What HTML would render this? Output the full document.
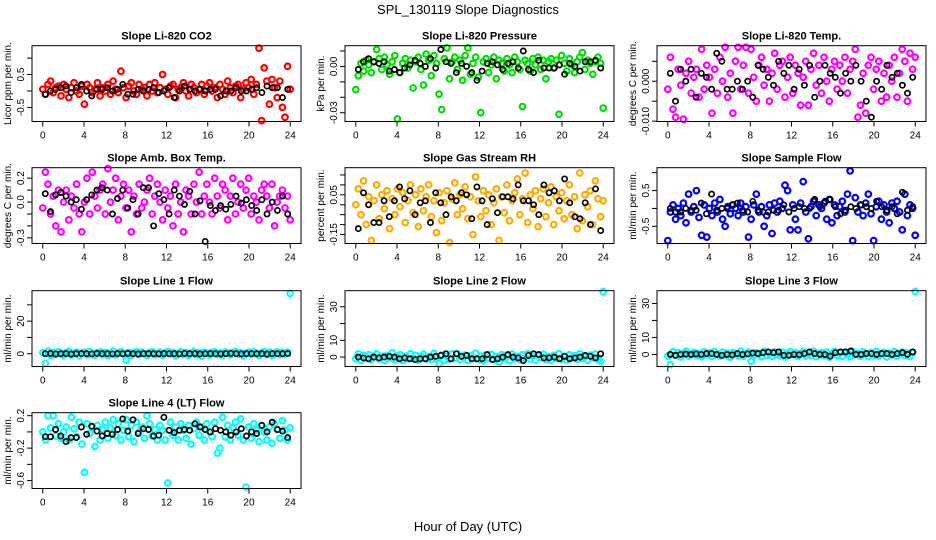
<!DOCTYPE html>
<html><head><meta charset="utf-8"><style>
html,body{margin:0;padding:0;background:#fff}
svg{display:block;font-family:"Liberation Sans",sans-serif}
</style></head><body>
<svg id="c" width="936" height="540" viewBox="0 0 936 540">
<text x="468" y="14" text-anchor="middle" font-size="13">SPL_130119  Slope Diagnostics</text>
<text x="468" y="531" text-anchor="middle" font-size="13">Hour of Day (UTC)</text>
</svg>
<script>
const xTicks=[0,4,8,12,16,20,24];
const co2All=[0.05,-0.1,0.2,0.3,-0.05,0.1,0.15,-0.15,0.2,0.05,-0.2,0.1,0.25,0.0,-0.1,0.15,-0.4,0.2,0.1,-0.05,0.05,0.25,-0.15,0.1,0.0,0.2,-0.1,0.3,0.05,-0.05,0.6,0.1,-0.2,0.15,0.25,0.0,-0.1,0.2,0.05,0.1,-0.15,0.2,0.0,0.25,-0.05,0.1,0.5,0.05,-0.1,0.15,0.2,-0.2,0.05,0.1,0.25,0.0,-0.15,0.2,0.1,-0.05,0.05,0.2,-0.1,0.15,0.25,0.0,0.1,-0.2,0.2,0.05,-0.1,0.3,0.1,-0.05,0.15,0.2,-0.2,0.05,0.25,0.1,0.35,-0.1,0.2,1.3,-0.9,0.7,0.3,-0.4,0.35,0.1,-0.2,0.3,-0.5,-0.8,0.75,0.05];
const co2Avg=[-0.1,0.0,0.05,0.1,0.15,-0.05,0.1,0.2,0.0,-0.15,0.05,0.05,0.1,0.0,0.05,0.2,-0.1,-0.1,0.05,0.0,0.05,0.1,-0.05,0.0,0.1,-0.2,0.0,0.15,0.05,0.0,0.05,0.0,0.05,0.05,-0.15,0.0,0.0,0.1,0.0,0.0,0.05,0.1,-0.05,0.15,0.1,0.1,-0.2,0.05];
const presAll=[-0.015,-0.006,0.002,-0.003,0.004,0.001,-0.004,0.003,0.011,0.005,-0.002,0.006,0.001,-0.005,0.003,0.007,-0.034,-0.004,0.002,0.005,-0.001,0.004,-0.014,0.003,0.006,-0.002,-0.012,0.008,0.004,-0.006,0.007,0.002,-0.018,-0.028,0.005,0.012,-0.008,0.003,0.006,-0.002,0.004,-0.009,0.007,0.012,-0.005,0.002,0.006,-0.007,-0.03,0.003,0.005,-0.004,0.001,0.006,-0.008,0.004,0.002,-0.003,0.005,0.001,-0.004,0.006,0.003,-0.002,-0.026,0.004,0.002,-0.003,0.005,0.001,0.006,-0.002,0.004,-0.008,0.003,0.005,-0.001,0.004,-0.031,0.007,0.002,-0.003,0.005,0.001,-0.004,0.003,0.006,0.009,-0.002,0.004,0.002,-0.005,0.003,0.006,0.002,-0.027];
const presAvg=[-0.002,0.003,0.005,0.003,0.002,0.003,-0.003,-0.002,-0.004,-0.001,0.001,0.004,0.002,0.0,0.005,-0.001,0.011,0.003,0.002,-0.004,0.002,0.0,-0.004,-0.009,-0.003,0.002,0.003,0.001,-0.002,0.002,0.003,-0.001,0.010,-0.002,-0.004,0.004,-0.001,-0.001,-0.001,0.001,-0.005,0.002,0.0,-0.003,0.003,0.003,0.004,-0.001];
const tempAll=[-0.002,0.006,-0.007,-0.009,0.003,-0.001,-0.0095,0.002,0.005,-0.003,0.001,0.003,-0.004,0.008,-0.002,0.004,0.001,-0.008,0.003,-0.003,0.006,0.0,0.0085,-0.004,0.002,-0.008,0.005,0.0085,-0.002,0.004,0.0085,-0.003,0.008,0.001,-0.005,0.004,0.006,-0.001,0.003,-0.005,0.002,0.007,-0.002,0.004,0.005,-0.004,0.001,0.006,-0.003,0.004,0.002,-0.006,0.001,0.005,-0.006,0.003,0.007,-0.001,0.004,-0.003,0.006,0.0,-0.005,0.003,0.005,-0.002,0.004,0.0,0.006,-0.003,0.003,0.005,0.008,-0.009,-0.006,0.002,-0.008,0.004,0.006,-0.002,0.003,0.005,-0.005,0.002,-0.004,0.004,0.0,0.006,-0.004,0.002,0.008,0.005,-0.005,0.007,0.003,0.006];
const tempAvg=[0.002,-0.005,0.003,0.0,0.003,-0.004,0.002,0.001,-0.002,0.007,0.005,-0.002,-0.002,0.0,-0.002,0.0,-0.004,0.004,0.003,0.001,-0.001,0.005,0.002,0.004,-0.002,0.003,-0.001,0.004,-0.004,0.0,0.004,0.002,0.001,-0.003,0.002,0.0,0.004,0.0,-0.005,-0.009,0.0,-0.002,0.004,0.001,0.002,-0.001,-0.003,0.001];
const boxAll=[-0.05,0.25,0.15,-0.1,0.05,-0.2,0.1,-0.25,0.0,0.1,-0.15,0.05,-0.05,0.15,-0.1,-0.25,0.0,0.2,-0.1,0.25,0.05,-0.05,0.1,0.15,-0.1,0.28,0.0,0.1,0.2,-0.15,0.05,0.15,-0.05,0.1,-0.25,0.05,-0.1,0.15,-0.05,0.0,0.1,0.2,-0.1,0.05,0.15,0.0,-0.15,0.1,-0.05,0.05,-0.2,0.15,-0.1,0.0,-0.25,0.1,0.05,-0.1,0.15,0.0,0.25,-0.1,0.05,0.15,0.0,-0.1,0.2,0.05,-0.05,0.15,0.1,-0.15,0.05,0.2,-0.1,0.0,0.15,-0.05,0.1,0.2,-0.1,0.05,0.0,-0.15,0.1,0.15,0.05,-0.05,0.15,-0.2,0.0,0.05,0.1,-0.05,0.05,-0.15];
const boxAvg=[0.07,-0.08,0.06,0.08,0.05,0.0,0.02,-0.06,0.02,0.06,0.1,0.12,0.1,-0.1,0.03,0.1,-0.05,0.02,-0.1,0.12,0.12,-0.2,0.07,0.02,-0.1,0.1,0.05,-0.02,0.09,-0.1,0.01,-0.33,-0.03,-0.07,-0.03,-0.06,-0.02,0.05,-0.01,0.02,-0.03,-0.07,0.02,-0.1,0.0,-0.07,0.05,-0.1];
const rhAll=[0.0,0.08,-0.05,0.12,-0.1,0.04,-0.18,0.02,0.1,-0.07,0.05,-0.02,0.07,-0.12,0.03,-0.05,0.08,-0.01,0.06,-0.09,0.02,0.1,-0.04,0.05,-0.11,0.08,-0.03,0.04,0.1,-0.06,0.02,-0.14,0.06,-0.08,0.01,0.07,-0.19,0.03,0.11,-0.05,0.05,-0.02,0.09,-0.07,0.04,-0.15,0.14,0.02,-0.06,0.07,-0.03,0.05,-0.1,0.01,0.08,-0.18,0.04,-0.04,0.1,-0.08,0.02,0.06,0.13,-0.05,0.03,0.16,-0.09,0.05,-0.02,0.07,-0.11,0.03,0.08,-0.06,0.01,0.09,-0.1,0.04,-0.03,0.06,-0.07,0.02,0.1,-0.05,0.04,-0.12,0.16,-0.08,0.05,-0.01,0.07,-0.1,0.12,0.03,-0.06,0.02];
const rhAvg=[-0.12,0.06,0.0,-0.09,-0.09,0.02,-0.06,0.02,0.09,0.03,0.07,-0.05,0.01,0.02,-0.09,0.06,0.01,-0.05,0.04,0.02,0.06,0.05,-0.07,0.09,0.02,-0.1,0.03,-0.04,0.04,0.04,0.03,0.1,0.02,0.02,0.0,-0.05,0.1,0.06,0.07,0.02,0.13,0.01,-0.06,-0.07,0.01,-0.1,0.08,-0.13];
const sampAll=[-0.9,-0.1,0.1,-0.3,0.0,-0.2,0.15,-0.4,0.4,-0.1,0.05,0.5,-0.25,-0.75,0.1,-0.8,0.0,-0.2,0.15,-0.1,0.25,-0.3,-0.5,0.05,-0.15,0.1,0.0,-0.2,0.15,-0.1,0.05,-0.8,-0.3,0.1,0.4,-0.1,0.05,-0.5,-0.2,0.1,-0.7,0.15,-0.1,0.2,0.0,0.65,0.5,-0.6,0.1,-0.3,-0.6,0.15,0.75,-0.1,-0.85,0.05,0.2,-0.2,0.1,0.0,0.15,-0.3,0.25,-0.4,0.1,-0.2,0.05,0.2,-0.1,0.4,1.05,-0.9,0.3,-0.1,0.1,-0.2,0.15,0.4,-0.15,-0.9,0.05,0.2,-0.3,0.1,-0.1,-0.4,0.15,0.0,0.2,-0.1,-0.6,0.4,-0.2,0.1,0.0,-0.75];
const sampAvg=[0.0,-0.1,-0.1,0.0,-0.05,-0.05,0.15,-0.15,0.4,-0.05,0.0,0.0,0.1,0.15,-0.05,-0.1,0.2,-0.05,-0.1,-0.1,-0.05,-0.05,0.1,-0.1,0.0,0.05,0.0,0.0,0.25,0.05,0.2,0.25,0.05,-0.15,-0.05,0.05,0.0,0.1,0.05,0.0,0.2,0.05,-0.05,0.05,-0.15,0.45,-0.05,0.05];
const l1All=[0.5,-6,1.5,-1,0.8,-0.5,1.2,0,-1,0.6,1.5,-0.8,0.2,1,-1.2,0.4,0.8,-0.6,1.4,0.2,-1,0.5,1.1,-0.4,0.9,-1.1,0.3,1.6,-0.7,0.5,1.2,-0.3,-4,0.8,-1,0.4,1.3,-0.5,0.9,0,-1.1,0.7,1.2,-0.6,0.3,1,-0.9,0.5,1.4,-0.2,0.7,-1.2,0.2,1.1,-0.5,0.8,-1,0.4,1.3,-0.7,0.6,-1.5,1,0.2,-0.8,0.9,1.2,-0.4,0.3,-1,1.1,0.5,-0.6,0.8,1.4,-0.3,0.7,-1.3,0.4,1,-0.5,1.2,0.1,-0.9,0.6,1.3,-0.4,0.9,-1,0.3,1.1,-0.6,0.8,-0.2,1,37];
const l1Avg=[0,0.2,-0.1,0,0.1,-0.2,0,0.1,0,-0.1,0.2,0,0,-0.1,0.1,0,0.2,0,-0.2,0,0.1,0,-0.1,0.1,0,0,-0.1,0.2,0,0.1,-0.2,0,0.1,0,-0.1,0,0.2,0,-0.1,0,0.1,0,0,-0.2,0.1,0,0,0.1];
const l2All=[-1,2,-2,1,-0.5,1.5,-1.5,0.5,2,-1,0.5,-2,1,-0.5,2.5,-1.5,0,1.5,-2,0.5,-1,2,-0.5,1,-1.8,0.5,1.8,-1,0.3,-1.5,2.2,-0.8,-4,1.2,-1.7,0.6,-1.2,1.9,-0.6,2,-1.5,0.4,1.2,-2,0.8,-0.7,2.3,-1.2,0.5,-2.2,1.3,-0.4,1.6,-1.4,0.2,-3,1.5,-1,0.7,-2.2,1.8,-0.8,0.4,-1.6,1.4,-0.5,2,-1.1,0.6,-1.9,1.3,-0.3,1.7,-1.4,0.2,-2,1,-0.6,2.1,-1.2,0.5,-1.7,1.5,-0.4,0.9,-1.3,2,-0.8,0.3,-1.8,1.2,-0.5,1.8,-1.5,-2.5,39];
const l2Avg=[0,-0.5,-1,0,-0.5,0,0.5,0,-1,-0.5,-1,-1.5,-1,-1,0,0.5,1,2,-1,2,0.5,1,-1,-1,-1,1.5,-1.5,-1,0,1.5,0,-0.5,-2,1,2,1.5,-0.5,-0.5,0,-1,0.5,-1,-0.5,0,1,0.5,-0.5,2];
const l3All=[-1,-6,1.5,-0.5,1,-1.5,0.5,1.8,-1,0.3,1.2,-0.8,0.6,-1.4,1.6,-0.2,0.9,-1.2,1.7,0,-0.9,1.3,-0.4,0.8,-1.6,1.1,0.2,-0.7,1.9,-1,0.5,1.4,-4,-0.6,1,0.3,-1.3,1.8,-0.5,0.7,-1.1,1.5,0.1,-0.8,1.2,-1.5,0.6,1.7,-0.3,1,-1.2,0.4,1.6,-0.9,0.8,-0.4,1.9,-1.3,0.5,1.1,-0.7,1.4,-1.6,0.2,1.8,-0.6,0.9,-1.1,1.3,0,-1.4,1.7,-0.2,0.6,-1,1.5,0.3,-1.3,1.1,-0.5,1.8,-0.8,0.4,1.2,-1.5,0.7,-0.3,1.6,-1,0.5,1.3,-0.6,0.9,-1.2,1,37];
const l3Avg=[0,-0.5,0,0.2,0,0.3,0,0.5,0.5,0,-0.5,0,-0.3,0.5,0,0.3,0.8,0.5,1,1.5,1,1.5,-0.5,-0.5,0,-0.2,0.5,1.5,0.5,0,0,-1,1,1.5,1.5,2,0,0,0.5,0.5,0,0.5,0.5,0,0.5,1,0,1.5];
const l4All=[0.0,-0.1,0.2,0.05,0.2,-0.05,0.1,-0.08,0.0,0.06,-0.1,0.18,0.04,-0.06,0.12,-0.15,-0.5,0.1,-0.02,0.06,-0.18,0.08,-0.1,0.03,0.12,-0.08,0.05,0.15,-0.04,0.1,-0.1,0.02,0.15,-0.06,0.08,-0.12,0.12,0.0,0.06,-0.08,0.2,0.1,-0.05,0.03,-0.1,0.08,0.02,-0.1,-0.63,0.12,-0.04,0.06,-0.1,0.1,0.02,-0.08,0.08,-0.15,0.04,0.12,-0.04,0.06,-0.1,0.1,0.0,-0.06,0.12,-0.26,-0.2,0.18,-0.06,0.08,-0.1,0.05,0.12,-0.04,0.16,-0.1,-0.68,0.06,-0.08,0.1,0.02,-0.12,0.08,0.0,-0.1,0.06,-0.14,0.1,0.03,-0.08,0.14,0.02,-0.1,0.05];
const l4Avg=[-0.06,-0.06,0.03,-0.05,-0.12,-0.07,-0.07,0.06,-0.03,0.07,0.01,-0.05,-0.02,-0.03,0.03,0.16,0.01,0.15,-0.02,0.04,0.03,-0.05,-0.04,0.18,0.02,-0.01,0.02,0.03,0.02,0.1,0.06,0.03,0.0,0.04,0.02,0.0,-0.04,0.0,0.04,-0.05,0.0,-0.02,0.08,0.0,0.12,0.03,0.01,-0.07];

const titles=["Slope Li-820 CO2","Slope Li-820 Pressure","Slope Li-820 Temp.","Slope Amb. Box Temp.","Slope Gas Stream RH","Slope Sample Flow","Slope Line 1 Flow","Slope Line 2 Flow","Slope Line 3 Flow","Slope Line 4 (LT) Flow"];
const yTitles=["Licor ppm per min.","kPa per min.","degrees C per min.","degrees C per min.","percent per min.","ml/min per min.","ml/min per min.","ml/min per min.","ml/min per min.","ml/min per min."];
const yTickVals=[[-0.5,0,0.5,1],[-0.03,-0.02,-0.01,0,0.01],[-0.01,-0.005,0,0.005],[-0.3,-0.2,-0.1,0,0.1,0.2],[-0.15,-0.1,-0.05,0,0.05,0.1,0.15],[-0.5,0,0.5,1],[0,10,20,30],[0,10,20,30],[0,10,20,30],[-0.6,-0.4,-0.2,0,0.2]];
const yTickLabels=[["-0.5","","0.5",""],["-0.03","","","0.00",""],["-0.010","","0.000",""],["-0.3","","","0.0","","0.2"],["-0.15","","","","0.05","",""],["-0.5","","0.5",""],["0","","20",""],["0","10","","30"],["0","10","","30"],["-0.6","","-0.2","","0.2"]];
const yDomains=[[-0.927,1.376],[-0.03568,0.01344],[-0.01008,0.0089],[-0.3475,0.288],[-0.195,0.1865],[-0.98,1.139],[-7.85,38.7],[-5.6,39.6],[-7.1,37.5],[-0.698,0.237]];
const allSeries=[co2All,presAll,tempAll,boxAll,rhAll,sampAll,l1All,l2All,l3All,l4All];
const avgSeries=[co2Avg,presAvg,tempAvg,boxAvg,rhAvg,sampAvg,l1Avg,l2Avg,l3Avg,l4Avg];
const colors=["#ff0000","#00dd00","#ff00ff","#ff00ff","#ffaa00","#0000ff","#00ffff","#00ffff","#00ffff","#00ffff"];

const NS="http://www.w3.org/2000/svg";
const svg=document.getElementById('c');
const colL=[32,345,657], colW=269;
const rowT=[45.7,167.7,290.7,412.7], rowH=75.8;
function mk(tag,attrs,parent){const e=document.createElementNS(NS,tag);for(const k in attrs)e.setAttribute(k,attrs[k]);(parent||svg).appendChild(e);return e;}

titles.forEach((t,p)=>{
  const L=colL[p%3], T=rowT[Math.floor(p/3)], R=L+colW, B=T+rowH;
  const g=mk('g',{});
  
  
  const xs=v=>L+colW*0.04+(colW*0.92)*v/24;
  const [y0,y1]=yDomains[p];
  const ys=v=>B-(v-y0)/(y1-y0)*rowH;
  const tt=mk('text',{x:(L+R)/2,y:T-6,'text-anchor':'middle','font-size':'11','font-weight':'bold'},g);
  tt.textContent=t;
  
  
  const yt=mk('text',{transform:`translate(${L-21},${(T+B)/2}) rotate(-90)`,'text-anchor':'middle','font-size':'10'},g);
  yt.textContent=yTitles[p];
  
  
  const pts=mk('g',{fill:'none',stroke:colors[p],'stroke-width':'2.2'},g);
  
  
  const a=allSeries[p];
  a.forEach((v,i)=>{
    const x=i*24/(a.length-1);
    const c=mk('circle',{cx:xs(x).toFixed(1),cy:ys(v).toFixed(1),r:'2.8'},pts);
    
    
  });
  const bp=mk('g',{fill:'none',stroke:'#000','stroke-width':'1.7'},g);
  
  
  const b=avgSeries[p];
  b.forEach((v,i)=>{
    const x=0.25+i*23.5/(b.length-1);
    const c=mk('circle',{cx:xs(x).toFixed(1),cy:ys(v).toFixed(1),r:'2.6'},bp);
    
    
  });
  const box=mk('rect',{x:L,y:T,width:colW,height:rowH,fill:'none',stroke:'#000','stroke-width':'1'},g);
  
  
  const xa=mk('g',{stroke:'#000'},g);
  
  
  xTicks.forEach(v=>{
    mk('line',{x1:xs(v),x2:xs(v),y1:B,y2:B+5},xa);
    const lb=mk('text',{x:xs(v),y:B+17,'text-anchor':'middle','font-size':'10',stroke:'none'},xa);
    lb.textContent=v;
    
    
  });
  const ya=mk('g',{stroke:'#000'},g);
  
  
  const tv=yTickVals[p];
  mk('line',{x1:L,x2:L,y1:ys(tv[0]),y2:ys(tv[tv.length-1])},ya);
  tv.forEach((v,i)=>{
    mk('line',{x1:L-5,x2:L,y1:ys(v),y2:ys(v)},ya);
    const s=yTickLabels[p][i];
    if(s){
      const lb=mk('text',{transform:`translate(${L-8},${ys(v)}) rotate(-90)`,'text-anchor':'middle','font-size':'10',stroke:'none'},ya);
      lb.textContent=s;
      
      
    }
  });
});
</script>
</body></html>
